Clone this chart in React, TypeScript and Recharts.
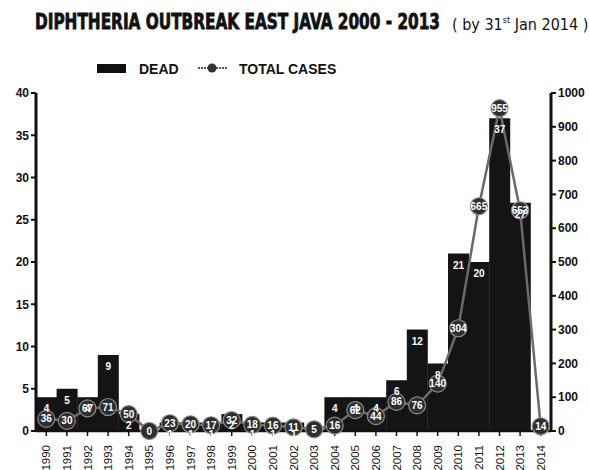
import { ComposedChart, Bar, Line, XAxis, YAxis, Legend, LabelList } from "recharts";

const years = [
  "1990", "1991", "1992", "1993", "1994", "1995", "1996", "1997", "1998", "1999",
  "2000", "2001", "2002", "2003", "2004", "2005", "2006", "2007", "2008", "2009",
  "2010", "2011", "2012", "2013", "2014",
];
const dead = [4, 5, 4, 9, 2, 0, 1, 1, 1, 2, 1, 1, 1, 0, 4, 4, 4, 6, 12, 8, 21, 20, 37, 27, 0];
const totalCases = [36, 30, 67, 71, 50, 0, 23, 20, 17, 32, 18, 16, 11, 5, 16, 62, 44, 86, 76, 140, 304, 665, 955, 653, 14];
const deadTicks = [0, 5, 10, 15, 20, 25, 30, 35, 40];
const caseTicks = [0, 100, 200, 300, 400, 500, 600, 700, 800, 900, 1000];

const data = years.map((year, i) => ({ year, dead: dead[i], total: totalCases[i] }));

const font = "'Liberation Sans', Arial, sans-serif";
const condensed = "'DejaVu Sans Condensed', 'DejaVu Sans', sans-serif";

function YearTick({ x, y, payload }: any) {
  return (
    <g transform={`translate(${x},${y})`}>
      <text
        transform="rotate(-90)"
        x={-7}
        y={4}
        textAnchor="end"
        fontSize={11.5}
        fontFamily={font}
        fill="#111"
      >
        {payload.value}
      </text>
    </g>
  );
}

function CaseDot(props: any) {
  const { cx, cy, payload, index } = props;
  if (cx == null || cy == null) return null;
  return (
    <g key={`dot-${index}`}>
      <circle cx={cx} cy={cy} r={8.5} fill="#2e2e2e" stroke="#8a8a8a" strokeWidth={1.2} />
      <text
        x={cx}
        y={cy + 3.5}
        textAnchor="middle"
        fontSize={10}
        fontWeight="bold"
        fontFamily={font}
        fill="#fff"
      >
        {payload.total}
      </text>
    </g>
  );
}

function ChartLegend() {
  return (
    <svg width={280} height={22}>
      <rect x={2} y={6} width={29} height={9} fill="#111" />
      <text x={44} y={16} fontSize={14} fontWeight="bold" fontFamily={font} fill="#111">
        DEAD
      </text>
      <line x1={103} y1={10} x2={132} y2={10} stroke="#555" strokeWidth={2} strokeDasharray="2 1" />
      <circle cx={117} cy={10} r={4.5} fill="#333" />
      <text x={144} y={16} fontSize={14} fontWeight="bold" fontFamily={font} fill="#111">
        TOTAL CASES
      </text>
    </svg>
  );
}

export default function App() {
  return (
    <div style={{ position: "absolute", left: 0, top: 0, width: 589, height: 470, background: "#fff" }}>
      <svg width={589} height={40} style={{ position: "absolute", left: 0, top: 0 }}>
        <text
          x={35}
          y={29}
          fontSize={22}
          fontWeight="900"
          fontFamily={condensed}
          fill="#111"
          stroke="#111"
          strokeWidth={0.8}
          textLength={405}
          lengthAdjust="spacingAndGlyphs"
        >
          DIPHTHERIA OUTBREAK EAST JAVA 2000 - 2013
        </text>
        <text x={452} y={30} fontSize={16} fontFamily={condensed} fill="#111">
          ( by 31
          <tspan fontSize={9} dy={-7}>st</tspan>
          <tspan dy={7}> Jan 2014 )</tspan>
        </text>
      </svg>
      <div style={{ position: "absolute", left: 0, top: 0 }}>
        <ComposedChart
          width={589}
          height={470}
          data={data}
          margin={{ top: 67, right: 0, bottom: 0, left: 0 }}
          barCategoryGap={0}
        >
          <XAxis
            dataKey="year"
            interval={0}
            height={39}
            tick={<YearTick />}
            axisLine={{ stroke: "#111", strokeWidth: 2.5 }}
            tickLine={{ stroke: "#111", strokeWidth: 1.5 }}
            tickSize={5}
          />
          <YAxis
            yAxisId="dead"
            orientation="left"
            width={36}
            domain={[0, 40]}
            ticks={deadTicks}
            interval={0}
            tick={{ fontSize: 12, fontWeight: "bold", fill: "#111", fontFamily: font }}
            axisLine={{ stroke: "#111", strokeWidth: 3 }}
            tickLine={{ stroke: "#111", strokeWidth: 2 }}
            tickSize={5}
          />
          <YAxis
            yAxisId="cases"
            orientation="right"
            width={38}
            domain={[0, 1000]}
            ticks={caseTicks}
            interval={0}
            tick={{ fontSize: 12, fontWeight: "bold", fill: "#111", fontFamily: font }}
            axisLine={{ stroke: "#111", strokeWidth: 3 }}
            tickLine={{ stroke: "#111", strokeWidth: 2 }}
            tickSize={5}
          />
          <Legend
            verticalAlign="top"
            content={() => <ChartLegend />}
            wrapperStyle={{ position: "absolute", top: 58, left: 95, width: 280 }}
          />
          <Bar yAxisId="dead" dataKey="dead" name="DEAD" fill="#141414" isAnimationActive={false}>
            <LabelList
              dataKey="dead"
              position="insideTop"
              offset={8}
              fill="#fff"
              fontSize={10}
              fontWeight="bold"
              fontFamily={font}
              formatter={(v: any) => (v > 0 ? v : "")}
            />
          </Bar>
          <Line
            yAxisId="cases"
            dataKey="total"
            name="TOTAL CASES"
            stroke="#6a6a6a"
            strokeWidth={2.5}
            dot={(p: any) => <CaseDot {...p} />}
            activeDot={false}
            isAnimationActive={false}
          />
        </ComposedChart>
      </div>
    </div>
  );
}
